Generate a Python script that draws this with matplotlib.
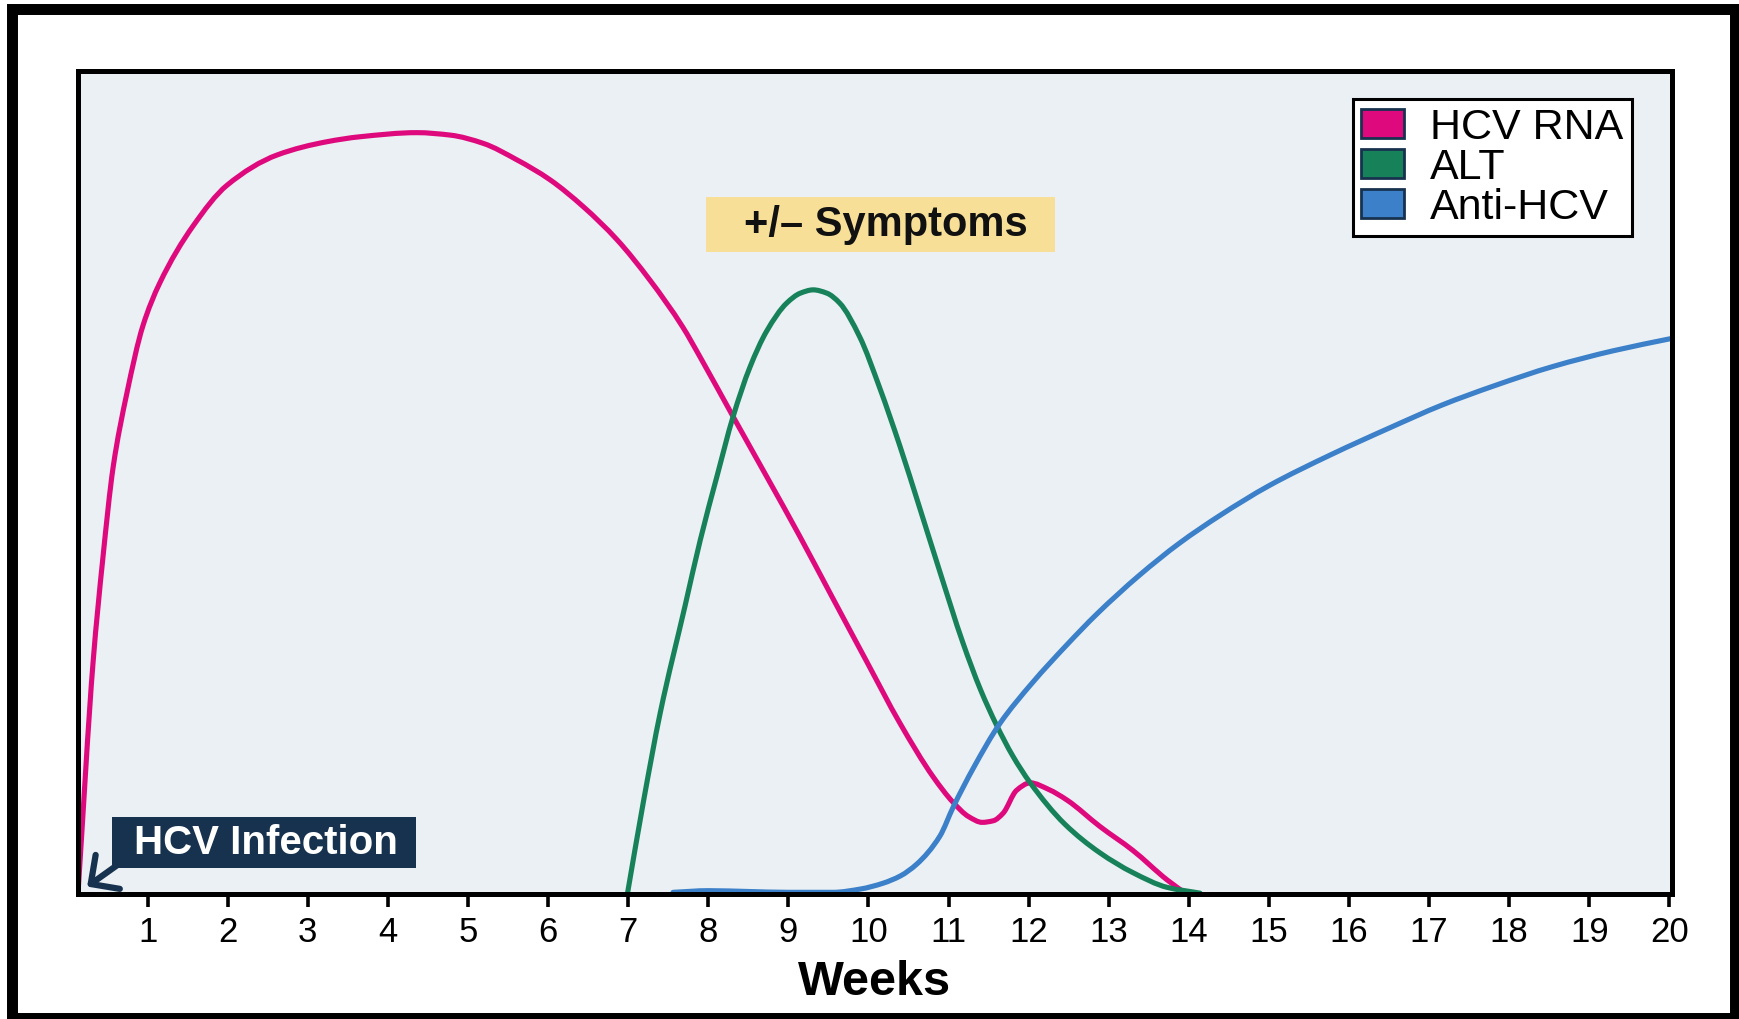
import matplotlib
matplotlib.use("Agg")
import numpy as np
import matplotlib.pyplot as plt
from matplotlib.patches import Patch, Rectangle, PathPatch
from matplotlib.path import Path

plt.rcParams['font.family'] = ['Liberation Sans', 'DejaVu Sans']

# values (weeks, relative level 0..1)
rna_weeks = [0.13, 0.32, 0.44, 0.57, 0.74, 0.94, 1.15, 1.57, 1.99, 2.62, 3.24, 3.65,
             4.36, 4.78, 5.19, 5.61, 6.02, 6.44, 6.86, 7.27, 7.68, 7.90, 8.31, 8.73,
             9.14, 9.54, 9.98, 10.39, 10.81, 11.06, 11.25, 11.42, 11.56, 11.68, 11.85,
             12.02, 12.25, 12.48, 12.89, 13.30, 13.73, 13.97]
rna_level = [0.0, 0.283, 0.407, 0.519, 0.608, 0.690, 0.742, 0.812, 0.861, 0.898, 0.914, 0.920,
             0.925, 0.922, 0.912, 0.892, 0.868, 0.835, 0.795, 0.746, 0.689, 0.652, 0.580, 0.507,
             0.435, 0.362, 0.282, 0.208, 0.142, 0.111, 0.094, 0.087, 0.089, 0.098, 0.126,
             0.135, 0.127, 0.114, 0.082, 0.053, 0.017, 0.0]

alt_weeks = [6.99, 7.19, 7.40, 7.71, 7.90, 8.11, 8.31, 8.52, 8.73, 8.98, 9.15, 9.31, 9.48,
             9.64, 9.89, 10.14, 10.39, 10.64, 10.89, 11.18, 11.40, 11.60, 11.80, 12.02,
             12.45, 12.89, 13.30, 13.73, 14.14]
alt_level = [0.0, 0.112, 0.220, 0.350, 0.430, 0.508, 0.580, 0.640, 0.684, 0.718, 0.730, 0.734,
             0.730, 0.718, 0.677, 0.615, 0.545, 0.469, 0.392, 0.305, 0.248, 0.205, 0.168, 0.135,
             0.085, 0.050, 0.026, 0.008, 0.001]

anti_weeks = [7.56, 8.0, 8.5, 9.0, 9.56, 9.90, 10.18, 10.40, 10.60, 10.89, 11.06, 11.31,
              11.64, 12.05, 12.48, 12.85, 13.38, 13.88, 14.39, 15.0, 15.78, 16.5, 17.16,
              17.8, 18.55, 19.3, 20.03]
anti_level = [0.002, 0.004, 0.003, 0.002, 0.002, 0.006, 0.013, 0.022, 0.036, 0.070, 0.106, 0.153,
              0.207, 0.257, 0.303, 0.340, 0.387, 0.426, 0.460, 0.496, 0.534, 0.566, 0.594,
              0.617, 0.641, 0.660, 0.675]

week_ticks = list(range(1, 21))
series_names = ['HCV RNA', 'ALT', 'Anti-HCV']
colors = ['#DE0A7D', '#17825A', '#3B80C9']
navy = '#17324F'


def smooth_path(xs, ys):
    """Monotone cubic (Fritsch-Carlson) through the points, as a Bezier path."""
    x = np.asarray(xs, float)
    y = np.asarray(ys, float)
    h = np.diff(x)
    d = np.diff(y) / h
    m = np.empty_like(y)
    m[0], m[-1] = d[0], d[-1]
    for k in range(1, len(x) - 1):
        if d[k - 1] * d[k] <= 0:
            m[k] = 0.0
        else:
            w1 = 2 * h[k] + h[k - 1]
            w2 = h[k] + 2 * h[k - 1]
            m[k] = (w1 + w2) / (w1 / d[k - 1] + w2 / d[k])
    verts = [(x[0], y[0])]
    codes = [Path.MOVETO]
    for k in range(len(x) - 1):
        verts += [(x[k] + h[k] / 3, y[k] + m[k] * h[k] / 3),
                  (x[k + 1] - h[k] / 3, y[k + 1] - m[k + 1] * h[k] / 3),
                  (x[k + 1], y[k + 1])]
        codes += [Path.CURVE4] * 3
    return Path(verts, codes)


fig = plt.figure(figsize=(17.4, 10.19), dpi=100)
ax = fig.add_axes([0.0448, 0.1227, 0.916, 0.8077])
ax.set_facecolor('#EAF0F3')
ax.set_xlim(0.13, 20.03)
ax.set_ylim(0, 1)

for xs, ys, c in [(rna_weeks, rna_level, colors[0]),
                  (alt_weeks, alt_level, colors[1]),
                  (anti_weeks, anti_level, colors[2])]:
    ax.add_patch(PathPatch(smooth_path(xs, ys), fill=False, edgecolor=c,
                           lw=3.7, capstyle='round', zorder=2))

ax.set_xticks(week_ticks)
ax.set_yticks([])
ax.tick_params(axis='x', direction='out', length=9, width=2.6, pad=7,
               labelsize=25, color='black')
for s in ax.spines.values():
    s.set_linewidth(3.6)
    s.set_color('black')
ax.set_xlabel('Weeks', fontsize=35, fontweight='bold', labelpad=8)

# legend
handles = [Patch(facecolor=c, edgecolor=navy, linewidth=2) for c in colors]
leg = ax.legend(handles, series_names, loc='upper right', bbox_to_anchor=(0.975, 0.966),
                borderaxespad=0, fontsize=31, frameon=True, fancybox=False,
                handlelength=1.0, handleheight=0.68, handletextpad=0.6,
                labelspacing=0.0, borderpad=0.2)
leg.get_frame().set_edgecolor('black')
leg.get_frame().set_linewidth(2.2)
leg.get_frame().set_facecolor('white')
leg.get_frame().set_alpha(1)

# symptoms box
ax.add_patch(Rectangle((0.394, 0.780), 0.219, 0.067, transform=ax.transAxes,
                       facecolor='#F7DF98', edgecolor='none', zorder=3))
ax.text(0.507, 0.813, '+/\u2013 Symptoms', transform=ax.transAxes, ha='center', va='center',
        fontsize=30, fontweight='bold', color='#111111', zorder=4)

# infection label
ax.add_patch(Rectangle((0.0213, 0.0316), 0.1907, 0.062, transform=ax.transAxes,
                       facecolor=navy, edgecolor='none', zorder=3))
ax.text(0.118, 0.062, 'HCV Infection', transform=ax.transAxes, ha='center', va='center',
        fontsize=29, fontweight='bold', color='white', zorder=4)
ax.annotate('', xy=(0.245, 0.009), xytext=(0.62, 0.035),
            arrowprops=dict(arrowstyle='->,head_length=0.5,head_width=0.5',
                            color=navy, lw=4.5, mutation_scale=30,
                            shrinkA=0, shrinkB=0), zorder=4)

# outer frame
fig.patches.append(Rectangle((0.00718, 0.0005), 0.98995, 0.99067, transform=fig.transFigure,
                             fill=False, edgecolor='black', linewidth=7.9))

fig.savefig('out.png', dpi=100)
